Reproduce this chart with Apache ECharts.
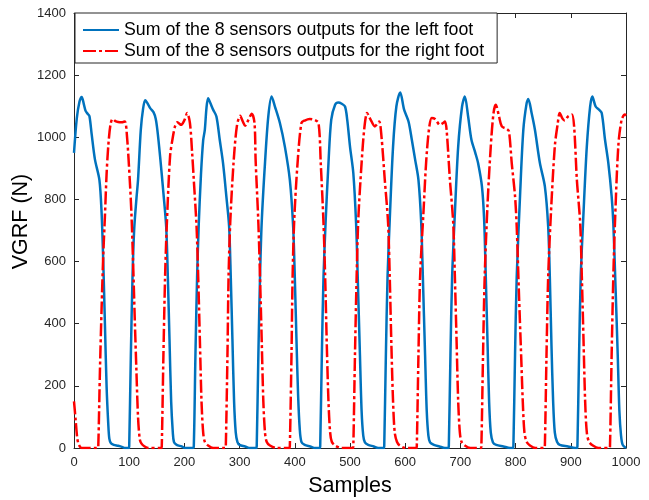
<!DOCTYPE html>
<html>
<head>
<meta charset="utf-8">
<script src="https://cdn.jsdelivr.net/npm/echarts@6/dist/echarts.min.js"></script>
<style>
    html, body { margin: 0; padding: 0; background: #fff; }
    #chart { width: 649px; height: 500px; }
</style>
</head>
<body>
<div id="chart"></div>
<script>
// Sum of the 8 sensors, left foot: [sample, VGRF]
let leftFoot = [
    [0, 950], [5, 1060], [10, 1115], [14, 1130], [18, 1105], [21, 1085], [25, 1075], [28, 1068], [32, 1010], [38, 928], [46, 863], [50, 757],
    [53, 600], [56, 400], [59, 200], [62, 80], [64, 30], [67, 15], [72, 10], [80, 7], [88, 3], [92, 0], [99, 0],
    [100, 5], [103, 300], [106, 550], [109, 703], [113, 800], [116, 863], [121, 1024], [125, 1090], [129, 1119], [133, 1110], [138, 1094], [144, 1081], [148, 1060], [151, 1024], [156, 938], [162, 820], [167, 713],
    [170, 550], [173, 350], [176, 150], [179, 50], [181, 20], [186, 10], [195, 5], [201, 0], [215, 0],
    [217, 5], [220, 300], [223, 550], [226, 720], [230, 880], [234, 990], [237, 1024], [240, 1095], [243, 1126], [247, 1110], [252, 1089], [258, 1067], [264, 992], [270, 917], [276, 810], [281, 713],
    [284, 550], [287, 350], [290, 150], [293, 50], [296, 20], [300, 10], [310, 5], [319, 0], [330, 0],
    [331, 5], [334, 300], [337, 550], [340, 724], [346, 917], [352, 1067], [358, 1131], [364, 1099], [373, 1046], [382, 970], [391, 863], [397, 713],
    [400, 550], [403, 350], [406, 170], [409, 60], [412, 20], [418, 10], [428, 5], [437, 0], [445, 0],
    [446, 5], [449, 300], [452, 550], [456, 735], [461, 917], [466, 1056], [473, 1105], [479, 1112], [485, 1108], [491, 1099], [495, 1056], [500, 970], [506, 885], [511, 724],
    [514, 550], [518, 300], [521, 120], [524, 40], [527, 18], [533, 10], [543, 5], [551, 0], [561, 0],
    [562, 5], [565, 300], [568, 550], [572, 735], [578, 970], [584, 1099], [591, 1144], [598, 1089], [606, 1051], [612, 992], [618, 928], [624, 863], [629, 724],
    [632, 550], [636, 300], [639, 120], [642, 40], [645, 18], [652, 10], [662, 5], [672, 0], [678, 0],
    [679, 5], [682, 300], [685, 550], [690, 756], [696, 970], [703, 1099], [708, 1131], [714, 1067], [720, 992], [727, 950], [732, 917], [739, 842], [743, 735],
    [746, 550], [749, 350], [752, 150], [755, 50], [759, 18], [765, 10], [778, 5], [790, 0], [795, 0],
    [796, 5], [799, 300], [802, 550], [808, 810], [814, 1024], [820, 1110], [823, 1123], [829, 1078], [835, 1024], [844, 917], [853, 842], [859, 713],
    [862, 550], [865, 330], [868, 150], [871, 50], [875, 20], [880, 10], [895, 5], [908, 0], [911, 0],
    [912, 5], [915, 300], [918, 550], [923, 756], [929, 970], [935, 1099], [939, 1131], [945, 1099], [951, 1089], [956, 1078], [962, 992], [968, 917], [974, 810], [977, 724],
    [981, 520], [985, 300], [988, 120], [991, 40], [994, 10], [1000, 0]
];

// Sum of the 8 sensors, right foot
let rightFoot = [
    [0, 150], [3, 90], [6, 30], [9, 10], [14, 0], [43, 0],
    [44, 5], [47, 250], [50, 450], [53, 620], [56, 745], [59, 880], [62, 970], [66, 1040], [70, 1059], [75, 1052], [80, 1049], [86, 1048], [92, 1051], [96, 1003], [101, 863], [104, 756],
    [107, 600], [110, 420], [113, 252], [116, 100], [119, 30], [122, 15], [128, 5], [135, 0], [158, 0],
    [159, 5], [162, 300], [165, 550], [168, 713], [174, 938], [179, 1000], [183, 1035], [187, 1048], [190, 1045], [194, 1040], [200, 1055], [205, 1078], [210, 1046], [214, 950], [217, 863], [222, 713],
    [225, 550], [228, 350], [231, 150], [234, 50], [237, 20], [243, 8], [252, 0], [274, 0],
    [275, 5], [278, 300], [280, 550], [283, 724], [289, 917], [295, 1035], [301, 1069], [306, 1050], [310, 1037], [316, 1056], [322, 1076], [327, 1046], [329, 928], [334, 724],
    [337, 550], [340, 350], [343, 150], [346, 50], [349, 20], [355, 8], [367, 0], [390, 0],
    [391, 5], [394, 300], [396, 550], [399, 735], [405, 917], [412, 1046], [418, 1054], [427, 1059], [436, 1056], [443, 1046], [447, 917], [452, 724],
    [455, 550], [458, 330], [461, 150], [464, 50], [467, 20], [473, 8], [485, 0], [505, 0],
    [506, 5], [509, 300], [512, 550], [515, 735], [521, 917], [526, 1030], [531, 1078], [535, 1065], [539, 1051], [545, 1035], [549, 1042], [553, 1051], [557, 1003], [563, 863], [569, 724],
    [572, 550], [575, 330], [578, 150], [581, 50], [585, 20], [590, 8], [600, 0], [620, 0],
    [621, 5], [624, 300], [627, 550], [633, 756], [640, 970], [648, 1062], [654, 1059], [663, 1040], [668, 1045], [672, 1051], [675, 1024], [681, 863], [687, 724],
    [690, 550], [693, 350], [696, 150], [699, 50], [702, 20], [708, 8], [718, 0], [737, 0],
    [738, 5], [741, 300], [744, 550], [749, 778], [755, 970], [760, 1078], [764, 1105], [770, 1067], [775, 1035], [784, 1027], [788, 1019], [793, 917], [799, 810], [802, 713],
    [806, 500], [810, 300], [813, 150], [816, 50], [820, 20], [826, 8], [836, 0], [852, 0],
    [853, 5], [856, 300], [859, 550], [864, 756], [871, 970], [876, 1040], [880, 1078], [885, 1060], [889, 1054], [895, 1067], [902, 1073], [906, 1035], [911, 863], [917, 724],
    [920, 550], [923, 350], [926, 150], [929, 50], [933, 20], [940, 8], [950, 0], [970, 0],
    [971, 5], [974, 300], [977, 550], [980, 724], [986, 970], [992, 1056], [998, 1073], [1000, 1070]
];

let seriesNames = ['Sum of the 8 sensors outputs for the left foot', 'Sum of the 8 sensors outputs for the right foot'];
let xRange = [0, 1000, 100];
let yRange = [0, 1400, 200];

let axisColor = '#262626';
let fontFamily = '"Liberation Sans", Arial, sans-serif';

function boxAxis(range, pos, showLabel, name) {
    return {
        type: 'value',
        position: pos,
        min: range[0],
        max: range[1],
        interval: range[2],
        name: name || '',
        nameLocation: 'middle',
        nameMoveOverlap: false,
        nameTextStyle: { fontSize: 21.5, color: '#000', fontFamily: fontFamily },
        axisLine: { show: true, onZero: false, lineStyle: { color: axisColor, width: 1 } },
        axisTick: { show: true, inside: true, length: 5, lineStyle: { color: axisColor } },
        axisLabel: {
            show: showLabel, fontSize: 13, color: axisColor, fontFamily: fontFamily, margin: 8,
            formatter: function (v) { return String(v); }
        },
        splitLine: { show: false }
    };
}

let chart = echarts.init(document.getElementById('chart'));

let xBottom = boxAxis(xRange, 'bottom', true, 'Samples');
xBottom.nameGap = 27;
let yLeft = boxAxis(yRange, 'left', true, 'VGRF (N)');
yLeft.nameGap = 42;
yLeft.nameTextStyle.padding = [0, 0, 0, 18];

chart.setOption({
    animation: false,
    backgroundColor: '#fff',
    grid: { left: 74, right: 23, top: 13, bottom: 52, outerBoundsMode: 'none', containLabel: false },
    legend: {
        left: 75,
        top: 13,
        orient: 'vertical',
        itemWidth: 36,
        itemHeight: 16,
        itemGap: 3,
        padding: [8, 13, 3, 7],
        borderColor: axisColor,
        borderWidth: 1,
        borderRadius: 0,
        backgroundColor: '#fff',
        itemStyle: { opacity: 0 },
        textStyle: { fontSize: 17.75, color: '#000', fontFamily: fontFamily },
        data: seriesNames
    },
    xAxis: [xBottom, boxAxis(xRange, 'top', false)],
    yAxis: [yLeft, boxAxis(yRange, 'right', false)],
    series: [
        {
            name: seriesNames[0],
            type: 'line',
            data: leftFoot,
            showSymbol: false,
            symbol: 'none',
            smooth: 0.3,
            lineStyle: { color: '#0072BD', width: 2.5 },
            itemStyle: { color: '#0072BD' }
        },
        {
            name: seriesNames[1],
            type: 'line',
            data: rightFoot,
            showSymbol: false,
            symbol: 'none',
            smooth: 0.3,
            lineStyle: { color: '#FF0000', width: 2.5, type: [13, 3, 3, 3] },
            itemStyle: { color: '#FF0000' }
        }
    ]
});
</script>
</body>
</html>
